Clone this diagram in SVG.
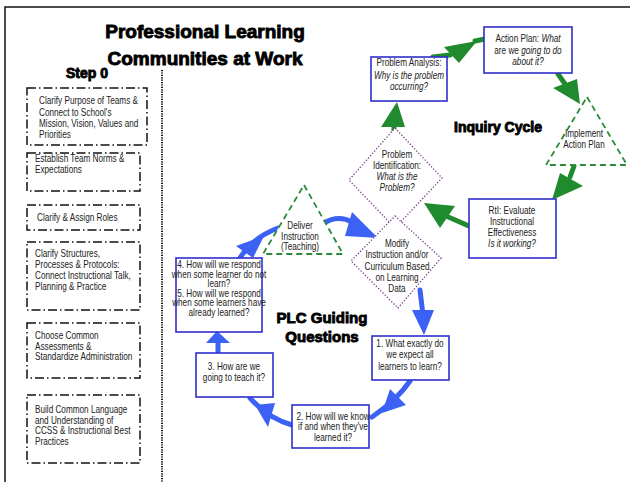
<svg xmlns="http://www.w3.org/2000/svg" width="630" height="482" viewBox="0 0 630 482">
  <style>
    .t { font-family: "Liberation Sans", Arial, sans-serif; font-size: 10px; fill: #222; }
    .c { text-anchor: middle; }
    .i { font-style: italic; }
    .h { font-family: "Liberation Sans", Arial, sans-serif; font-weight: bold; fill: #000; stroke: #000; stroke-width: 0.9; }
    .step { fill: #fff; stroke: #111; stroke-width: 1.5; stroke-dasharray: 9 3 1.5 3; }
    .qbox { fill: #fff; stroke: #2f2fcc; stroke-width: 1.6; }
    .dia { fill: #fff; stroke: #7b3f8c; stroke-width: 1.3; stroke-dasharray: 1.3 1.8; }
    .tri { fill: #fff; stroke: #2a8a3a; stroke-width: 1.8; stroke-dasharray: 6 4; }
    .bl { fill: none; stroke: #3b62f4; stroke-width: 5; stroke-linecap: round; }
    .blh { fill: #3b62f4; }
    .gr { fill: none; stroke: #1f8a2e; stroke-width: 5; stroke-linecap: round; }
    .grh { fill: #1f8a2e; }
  </style>

  <!-- page frame -->
  <path d="M5,482 V7 H630" fill="none" stroke="#111" stroke-width="1.5"/>

  <!-- title -->
  <g id="title">
    <text class="h c" x="205" y="38" font-size="19">Professional Learning</text>
    <text class="h c" x="205" y="65" font-size="19">Communities at Work</text>
  </g>

  <!-- Step 0 column; condensed text is the regular face squeezed to 82% width -->
  <g id="step0">
    <text class="h c" x="87" y="78" font-size="14">Step 0</text>
    <line x1="162" y1="70" x2="162" y2="482" stroke="#111" stroke-width="2" stroke-dasharray="1.2 1.2"/>
  </g>
  <g id="s1">
    <rect class="step" x="27" y="88" width="120" height="57"/>
    <g transform="matrix(0.82 0 0 1 7.02 0)">
      <text class="t" x="39" y="104">Clarify Purpose of Teams &amp;</text>
      <text class="t" x="39" y="116">Connect to School's</text>
      <text class="t" x="39" y="127">Mission, Vision, Values and</text>
      <text class="t" x="39" y="138">Priorities</text>
    </g>
  </g>
  <g id="s2">
    <rect class="step" x="27" y="153" width="113" height="38"/>
    <g transform="matrix(0.82 0 0 1 6.3 0)">
      <text class="t" x="35" y="162">Establish Team Norms &amp;</text>
      <text class="t" x="35" y="173">Expectations</text>
    </g>
  </g>
  <g id="s3">
    <rect class="step" x="27" y="205" width="113" height="25"/>
    <g transform="matrix(0.82 0 0 1 6.66 0)">
      <text class="t" x="37" y="221">Clarify &amp; Assign Roles</text>
    </g>
  </g>
  <g id="s4">
    <rect class="step" x="27" y="242" width="113" height="68"/>
    <g transform="matrix(0.82 0 0 1 6.3 0)">
      <text class="t" x="35" y="257">Clarify Structures,</text>
      <text class="t" x="35" y="268">Processes &amp; Protocols:</text>
      <text class="t" x="35" y="279">Connect Instructional Talk,</text>
      <text class="t" x="35" y="290">Planning &amp; Practice</text>
    </g>
  </g>
  <g id="s5">
    <rect class="step" x="27" y="323" width="113" height="55"/>
    <g transform="matrix(0.82 0 0 1 6.3 0)">
      <text class="t" x="35" y="339">Choose Common</text>
      <text class="t" x="35" y="350">Assessments &amp;</text>
      <text class="t" x="35" y="360">Standardize Administration</text>
    </g>
  </g>
  <g id="s6">
    <rect class="step" x="27" y="395" width="113" height="68"/>
    <g transform="matrix(0.82 0 0 1 6.3 0)">
      <text class="t" x="35" y="413">Build Common Language</text>
      <text class="t" x="35" y="424">and Understanding of</text>
      <text class="t" x="35" y="434">CCSS &amp; Instructional Best</text>
      <text class="t" x="35" y="445">Practices</text>
    </g>
  </g>

  <!-- connectors -->
  <g id="connectors">
    <!-- inquiry cycle (green) -->
    <path class="gr" d="M394,133 L394,124"/>
    <polygon class="grh" points="381,127 405,127 397,102"/>
    <path class="gr" d="M433,57 L450,55"/>
    <polygon class="grh" points="444,47 459,63 477,41"/>
    <path class="gr" d="M475,41 L485,39"/>
    <path class="gr" d="M558,74 L565,84"/>
    <polygon class="grh" points="553,88 577,79 580,104"/>
    <path class="gr" d="M574,166 L570,177"/>
    <polygon class="grh" points="560,173 583,186 552,200"/>
    <path class="gr" d="M469,226 L446,216"/>
    <polygon class="grh" points="455,206 440,228 424,203"/>

    <!-- guiding questions (blue) -->
    <path class="bl" d="M420,290 L423,315"/>
    <polygon class="blh" points="412,310 434,310 424,335"/>
    <path class="bl" d="M410,381 Q397,400 372,417"/>
    <polygon class="blh" points="390,389 406,405 382,413"/>
    <path class="bl" d="M292,425 Q268,418 250,398"/>
    <polygon class="blh" points="275,403 268,427 255,405"/>
    <path class="bl" d="M218,353 L218,340"/>
    <polygon class="blh" points="206,343 230,343 217,331"/>
    <path class="bl" d="M240,258 Q252,238 278,228"/>
    <polygon class="blh" points="236,246 253,258 264,236"/>
    <path class="bl" d="M322,224 Q338,214 352,222"/>
    <polygon class="blh" points="352,212 345,236 378,238"/>
  </g>

  <!-- inquiry cycle nodes -->
  <g id="problem-analysis">
    <rect class="qbox" x="371" y="57" width="76" height="44"/>
    <g transform="matrix(0.82 0 0 1 73.62 0)">
      <text class="t c" x="409" y="66">Problem Analysis:</text>
      <text class="t c i" x="409" y="79">Why is the problem</text>
      <text class="t c i" x="409" y="90">occurring?</text>
    </g>
  </g>
  <g id="action-plan">
    <rect class="qbox" x="484" y="27" width="88" height="46"/>
    <g transform="matrix(0.82 0 0 1 95.04 0)">
      <text class="t c" x="528" y="42">Action Plan: <tspan class="i">What</tspan></text>
      <text class="t c" x="528" y="54">are we <tspan class="i">going to do</tspan></text>
      <text class="t c i" x="528" y="65">about it?</text>
    </g>
  </g>
  <g id="implement">
    <polygon class="tri" points="587,97 627,165 546,165"/>
    <g transform="matrix(0.82 0 0 1 105.12 0)">
      <text class="t c" x="584" y="137">Implement</text>
      <text class="t c" x="584" y="148">Action Plan</text>
    </g>
  </g>
  <g id="inquiry-label">
    <text class="h c" x="498" y="132" font-size="14">Inquiry Cycle</text>
  </g>
  <g id="problem-id">
    <polygon class="dia" points="395,128 442,178 395,228 349,180"/>
    <g transform="matrix(0.82 0 0 1 71.46 0)">
      <text class="t c" x="397" y="158">Problem</text>
      <text class="t c" x="397" y="169">Identification:</text>
      <text class="t c i" x="397" y="180">What is the</text>
      <text class="t c i" x="397" y="191">Problem?</text>
    </g>
  </g>
  <g id="rti">
    <rect class="qbox" x="469" y="199" width="87" height="59"/>
    <g transform="matrix(0.82 0 0 1 92.16 0)">
      <text class="t c" x="512" y="214">RtI:  Evaluate</text>
      <text class="t c" x="512" y="225">Instructional</text>
      <text class="t c" x="512" y="236">Effectiveness</text>
      <text class="t c i" x="512" y="247">Is it working?</text>
    </g>
  </g>
  <g id="modify">
    <polygon class="dia" points="395,216 441,258 398,308 351,261"/>
    <g transform="matrix(0.82 0 0 1 71.46 0)">
      <text class="t c" x="397" y="247" font-size="10.5">Modify</text>
      <text class="t c" x="397" y="258.5" font-size="10.5">Instruction and/or</text>
      <text class="t c" x="397" y="270" font-size="10.5">Curriculum Based</text>
      <text class="t c" x="397" y="281" font-size="10.5">on Learning</text>
      <text class="t c" x="397" y="292" font-size="10.5">Data</text>
    </g>
  </g>

  <!-- guiding question nodes -->
  <g id="deliver">
    <polygon class="tri" points="304,185 343,254 263,254"/>
    <g transform="matrix(0.82 0 0 1 54 0)">
      <text class="t c" x="300" y="229" font-size="9.5">Deliver</text>
      <text class="t c" x="300" y="240" font-size="9.5">Instruction</text>
      <text class="t c" x="300" y="250" font-size="9.5">(Teaching)</text>
    </g>
  </g>
  <g id="q45">
    <rect class="qbox" x="176" y="258" width="86" height="74"/>
    <g transform="matrix(0.82 0 0 1 39.42 0)">
      <text class="t c" x="219" y="268" font-size="8">4. How will we respond</text>
      <text class="t c" x="219" y="277.6" font-size="8">when some learner do not</text>
      <text class="t c" x="219" y="287.2" font-size="8">learn?</text>
      <text class="t c" x="219" y="296.8" font-size="8">5. How will we respond</text>
      <text class="t c" x="219" y="306.4" font-size="8">when some learners have</text>
      <text class="t c" x="219" y="316" font-size="8">already learned?</text>
    </g>
  </g>
  <g id="q3">
    <rect class="qbox" x="196" y="353" width="77" height="44"/>
    <g transform="matrix(0.82 0 0 1 42.12 0)">
      <text class="t c" x="234" y="370" font-size="11">3. How are we</text>
      <text class="t c" x="234" y="381.5" font-size="11">going to teach it?</text>
    </g>
  </g>
  <g id="q2">
    <rect class="qbox" x="292" y="405" width="77" height="43"/>
    <g transform="matrix(0.82 0 0 1 59.94 0)">
      <text class="t c" x="333" y="420" font-size="10">2. How will we know</text>
      <text class="t c" x="333" y="430.5" font-size="10">if and when they've</text>
      <text class="t c" x="333" y="441" font-size="10">learned it?</text>
    </g>
  </g>
  <g id="q1">
    <rect class="qbox" x="372" y="336" width="77" height="44"/>
    <g transform="matrix(0.82 0 0 1 73.8 0)">
      <text class="t c" x="410" y="347" font-size="11">1. What exactly do</text>
      <text class="t c" x="410" y="358.5" font-size="11">we expect all</text>
      <text class="t c" x="410" y="370" font-size="11">learners to learn?</text>
    </g>
  </g>
  <g id="plc-label">
    <text class="h c" x="322" y="323" font-size="15">PLC Guiding</text>
    <text class="h c" x="322" y="342" font-size="15">Questions</text>
  </g>
</svg>
